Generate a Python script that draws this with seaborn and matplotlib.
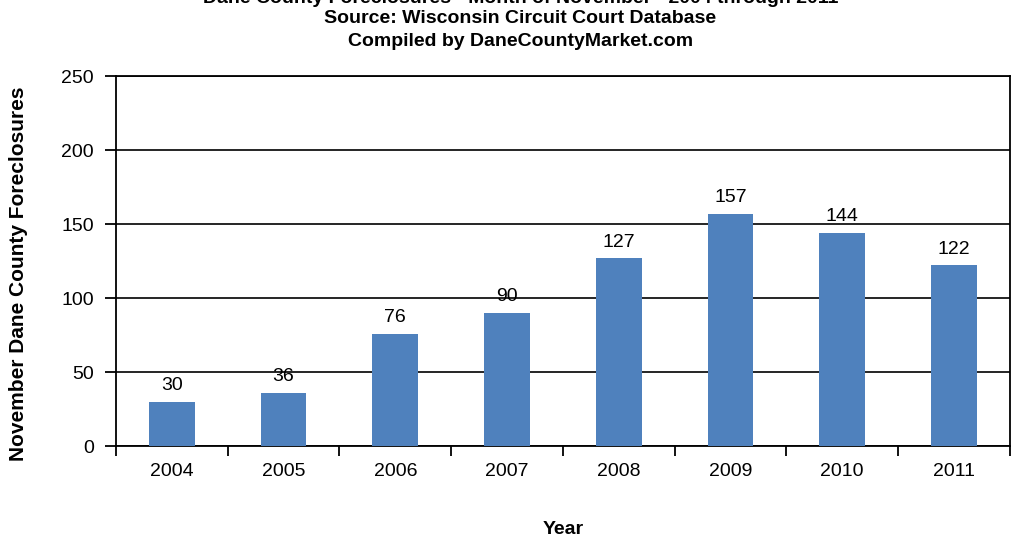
import seaborn as sns
import matplotlib
matplotlib.use("Agg")
import matplotlib.pyplot as plt
import pandas as pd

years = ["2004", "2005", "2006", "2007", "2008", "2009", "2010", "2011"]
foreclosures = [30, 36, 76, 90, 127, 157, 144, 122]

df = pd.DataFrame({"Year": years, "Foreclosures": foreclosures})

sns.set_style("white")
plt.rcParams["font.family"] = ["Liberation Sans", "DejaVu Sans"]
plt.rcParams["text.color"] = "black"
plt.rcParams["axes.labelcolor"] = "black"
plt.rcParams["xtick.color"] = "black"
plt.rcParams["ytick.color"] = "black"
plt.rcParams["xtick.bottom"] = True
plt.rcParams["ytick.left"] = True

fig = plt.figure(figsize=(10.24, 5.38), dpi=100)
ax = fig.add_axes([0.1133, 0.171, 0.8727, 0.6877])

sns.barplot(data=df, x="Year", y="Foreclosures", color="#4F81BD",
            width=0.41, saturation=1, edgecolor="none", ax=ax, zorder=3)

for i, v in enumerate(foreclosures):
    ax.text(i, v + 5, str(v), ha="center", va="bottom", fontsize=14)

ax.set_ylim(0, 250)
ax.set_yticks(range(0, 251, 50))
ax.set_xlim(-0.5, len(years) - 0.5)
ax.yaxis.grid(True, color="black", linewidth=1.2, zorder=0)
ax.set_axisbelow(True)

# ticks between categories on x
ax.set_xticks([i - 0.5 for i in range(len(years) + 1)], minor=False)
ax.set_xticklabels([])
ax.set_xticks(range(len(years)), minor=True)
ax.set_xticklabels(years, minor=True, fontsize=14)
ax.tick_params(axis="x", which="major", direction="out", length=7, width=1.3, color="black")
ax.tick_params(axis="x", which="minor", length=0, pad=12)
ax.tick_params(axis="y", direction="out", length=8, width=1.3, color="black", labelsize=14, pad=8)

for sp in ax.spines.values():
    sp.set_visible(True)
    sp.set_color("black")
    sp.set_linewidth(1.3)

ax.set_xlabel("Year", fontsize=14, fontweight="bold", labelpad=30)
ax.set_ylabel("November Dane County Foreclosures", fontsize=15, fontweight="bold")
ax.yaxis.set_label_coords(-0.098, 0.465)

fig.text(0.508, 1.003, "Dane County Foreclosures - Month of November - 2004 through 2011",
         ha="center", va="center", fontsize=14, fontweight="bold")
fig.text(0.508, 0.965, "Source: Wisconsin Circuit Court Database",
         ha="center", va="center", fontsize=14, fontweight="bold")
fig.text(0.508, 0.923, "Compiled by DaneCountyMarket.com",
         ha="center", va="center", fontsize=14, fontweight="bold")

fig.savefig("out.png", dpi=100)
